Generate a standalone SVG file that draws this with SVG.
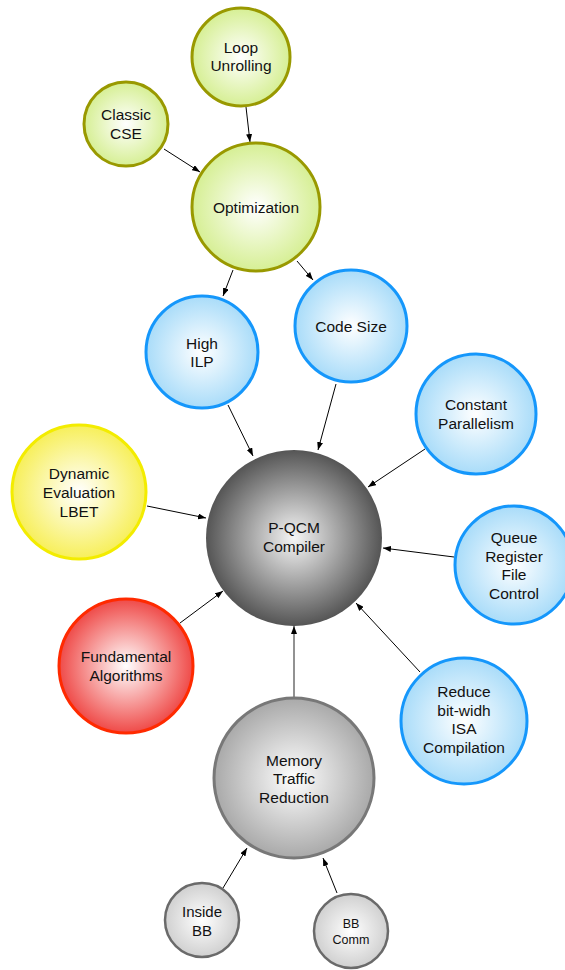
<svg xmlns="http://www.w3.org/2000/svg" width="565" height="970" viewBox="0 0 565 970">
  <defs>
    <radialGradient id="gGreen" cx="50%" cy="50%" r="50%">
      <stop offset="0" stop-color="#ffffff"/>
      <stop offset="1" stop-color="#d6ef94"/>
    </radialGradient>
    <radialGradient id="gBlue" cx="50%" cy="50%" r="50%">
      <stop offset="0" stop-color="#ffffff"/>
      <stop offset="1" stop-color="#a9dcf9"/>
    </radialGradient>
    <radialGradient id="gYellow" cx="50%" cy="50%" r="50%">
      <stop offset="0" stop-color="#ffffff"/>
      <stop offset="1" stop-color="#f7ef5a"/>
    </radialGradient>
    <radialGradient id="gRed" cx="50%" cy="50%" r="50%">
      <stop offset="0" stop-color="#ffffff"/>
      <stop offset="1" stop-color="#ef4a48"/>
    </radialGradient>
    <radialGradient id="gDark" cx="50%" cy="50%" r="50%">
      <stop offset="0" stop-color="#f6f6f6"/>
      <stop offset="0.1" stop-color="#e6e6e6"/>
      <stop offset="1" stop-color="#555555"/>
    </radialGradient>
    <radialGradient id="gGray" cx="50%" cy="50%" r="50%">
      <stop offset="0" stop-color="#ffffff"/>
      <stop offset="1" stop-color="#a9a9a9"/>
    </radialGradient>
    <radialGradient id="gLight" cx="50%" cy="50%" r="50%">
      <stop offset="0" stop-color="#ffffff"/>
      <stop offset="1" stop-color="#d0d0d0"/>
    </radialGradient>
    <marker id="arrow" markerUnits="userSpaceOnUse" markerWidth="8" markerHeight="6" refX="8" refY="3" orient="auto">
      <path d="M0,0 L8,3 L0,6 z" fill="#000"/>
    </marker>
  </defs>
  <style>
    .lbl { font-family: "Liberation Sans", Arial, Helvetica, sans-serif; font-size: 15.5px; fill: #111; text-anchor: middle; }
    .md { font-size: 15px; }
    .sm { font-size: 12.5px; }
    .green { fill: url(#gGreen); stroke: #999900; stroke-width: 3; }
    .blue { fill: url(#gBlue); stroke: #1597fb; stroke-width: 3; }
    .yellow { fill: url(#gYellow); stroke: #f3ec00; stroke-width: 3; }
    .red { fill: url(#gRed); stroke: #ff2a00; stroke-width: 3; }
    .dark { fill: url(#gDark); }
    .gray { fill: url(#gGray); stroke: #787878; stroke-width: 3; }
    .light { fill: url(#gLight); stroke: #6a6a6a; stroke-width: 2.5; }
    .edge { stroke: #000; stroke-width: 1; fill: none; marker-end: url(#arrow); }
    .edge2 { stroke: #6e6e6e; stroke-width: 1.5; fill: none; marker-end: url(#arrow); }
  </style>

  <!-- connectors -->
  <g id="connectors">
    <line class="edge" x1="246" y1="107" x2="250" y2="142"/>
    <line class="edge" x1="164" y1="149" x2="200" y2="172"/>
    <line class="edge" x1="233" y1="270" x2="223" y2="296"/>
    <line class="edge" x1="297" y1="261" x2="313" y2="280"/>
    <line class="edge" x1="228" y1="405" x2="253" y2="456"/>
    <line class="edge" x1="336" y1="384" x2="318" y2="450"/>
    <line class="edge" x1="425" y1="449" x2="368" y2="487"/>
    <line class="edge" x1="454" y1="557" x2="383" y2="548"/>
    <line class="edge" x1="147" y1="506" x2="206" y2="518"/>
    <line class="edge" x1="180" y1="623" x2="223" y2="591"/>
    <line class="edge" x1="420" y1="672" x2="356" y2="603"/>
    <line class="edge2" x1="294" y1="697" x2="294" y2="626"/>
    <line class="edge" x1="223" y1="888" x2="247" y2="848"/>
    <line class="edge" x1="337" y1="893" x2="323" y2="858"/>
  </g>

  <g id="loop-unrolling">
    <circle class="green" cx="241" cy="57" r="49"/>
    <text class="lbl" x="241" y="53">Loop</text>
    <text class="lbl" x="241" y="71">Unrolling</text>
  </g>
  <g id="classic-cse">
    <circle class="green" cx="126" cy="124" r="42"/>
    <text class="lbl" x="126" y="120">Classic</text>
    <text class="lbl" x="126" y="139">CSE</text>
  </g>
  <g id="optimization">
    <circle class="green" cx="256" cy="207" r="64"/>
    <text class="lbl" x="256" y="213">Optimization</text>
  </g>
  <g id="high-ilp">
    <circle class="blue" cx="202" cy="352" r="56"/>
    <text class="lbl" x="202" y="349">High</text>
    <text class="lbl" x="202" y="367">ILP</text>
  </g>
  <g id="code-size">
    <circle class="blue" cx="351" cy="326" r="56"/>
    <text class="lbl" x="351" y="332">Code Size</text>
  </g>
  <g id="constant-parallelism">
    <circle class="blue" cx="476" cy="414" r="60"/>
    <text class="lbl" x="476" y="410">Constant</text>
    <text class="lbl" x="476" y="429">Parallelism</text>
  </g>
  <g id="pqcm-compiler">
    <circle class="dark" cx="294" cy="538" r="88"/>
    <text class="lbl" x="294" y="533">P-QCM</text>
    <text class="lbl" x="294" y="552">Compiler</text>
  </g>
  <g id="queue-register">
    <circle class="blue" cx="514" cy="565" r="59"/>
    <text class="lbl" x="514" y="543">Queue</text>
    <text class="lbl" x="514" y="562">Register</text>
    <text class="lbl" x="514" y="580">File</text>
    <text class="lbl" x="514" y="599">Control</text>
  </g>
  <g id="dynamic-evaluation">
    <circle class="yellow" cx="79" cy="492" r="67"/>
    <text class="lbl" x="79" y="479">Dynamic</text>
    <text class="lbl" x="79" y="498">Evaluation</text>
    <text class="lbl" x="79" y="517">LBET</text>
  </g>
  <g id="fundamental-algorithms">
    <circle class="red" cx="126" cy="666" r="67"/>
    <text class="lbl" x="126" y="662">Fundamental</text>
    <text class="lbl" x="126" y="681">Algorithms</text>
  </g>
  <g id="reduce-bitwidth">
    <circle class="blue" cx="464" cy="721" r="63"/>
    <text class="lbl" x="464" y="697">Reduce</text>
    <text class="lbl" x="464" y="716">bit-widh</text>
    <text class="lbl" x="464" y="734">ISA</text>
    <text class="lbl" x="464" y="753">Compilation</text>
  </g>
  <g id="memory-traffic">
    <circle class="gray" cx="294" cy="778" r="80"/>
    <text class="lbl" x="294" y="766">Memory</text>
    <text class="lbl" x="294" y="784">Traffic</text>
    <text class="lbl" x="294" y="803">Reduction</text>
  </g>
  <g id="inside-bb">
    <circle class="light" cx="202" cy="920" r="37"/>
    <text class="lbl md" x="202" y="917">Inside</text>
    <text class="lbl md" x="202" y="936">BB</text>
  </g>
  <g id="bb-comm">
    <circle class="light" cx="351" cy="931" r="37"/>
    <text class="lbl sm" x="351" y="928">BB</text>
    <text class="lbl sm" x="351" y="944">Comm</text>
  </g>
</svg>
